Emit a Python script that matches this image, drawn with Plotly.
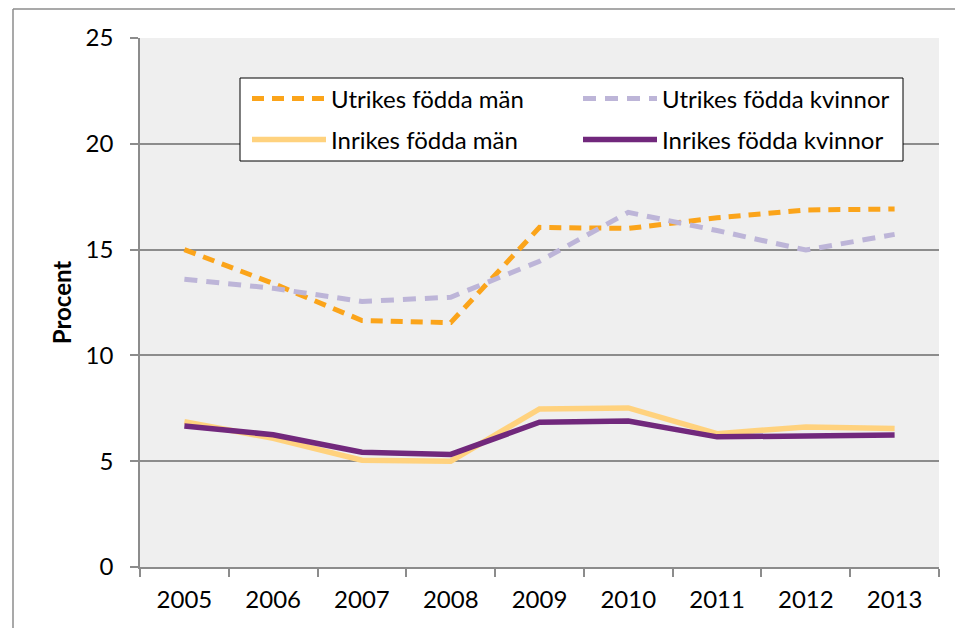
import plotly.graph_objects as go

years = ["2005", "2006", "2007", "2008", "2009", "2010", "2011", "2012", "2013"]
utrikes_man = [15.0, 13.4, 11.65, 11.55, 16.05, 16.0, 16.5, 16.87, 16.92]
utrikes_kvinnor = [13.6, 13.17, 12.55, 12.75, 14.45, 16.76, 15.9, 14.98, 15.72]
inrikes_man = [6.87, 6.08, 5.05, 5.0, 7.47, 7.52, 6.3, 6.62, 6.55]
inrikes_kvinnor = [6.66, 6.25, 5.42, 5.32, 6.84, 6.9, 6.15, 6.2, 6.24]
y_ticks = [0, 5, 10, 15, 20, 25]

FONT = "Lato"
GRID = "#8c8c8c"
OFF = 8  # browser body margin

fig = go.Figure()
series = [
    ("Utrikes födda män", utrikes_man, "#FBA41A", "12px,8px", 5, "legend"),
    ("Utrikes födda kvinnor", utrikes_kvinnor, "#BDB5D8", "13px,9px", 5, "legend2"),
    ("Inrikes födda män", inrikes_man, "#FFD27E", "solid", 5.5, "legend3"),
    ("Inrikes födda kvinnor", inrikes_kvinnor, "#71287C", "solid", 5.5, "legend4"),
]
for name, vals, col, dash, w, lg in series:
    fig.add_trace(go.Scatter(x=years, y=vals, name=name, mode="lines",
                             line=dict(color=col, width=w, dash=dash),
                             legend=lg, showlegend=True, hoverinfo="skip"))

L, T = 140, 38
R, B = 939, 567
pw = R - L
ph = B - T

def px(x):
    return (x - L) / pw

def py(y):
    return 1 - (y - T) / ph

leg_common = dict(bgcolor="rgba(0,0,0,0)", borderwidth=0, font=dict(family=FONT, size=24, color="#000"),
                  itemwidth=74, xanchor="left", yanchor="middle", itemclick=False, itemdoubleclick=False)
fig.update_layout(
    showlegend=True,
    legend=dict(x=px(247), y=py(99), **leg_common),
    legend2=dict(x=px(578), y=py(99), **leg_common),
    legend3=dict(x=px(247), y=py(140), **leg_common),
    legend4=dict(x=px(578), y=py(140), **leg_common),
)

shapes = [
    dict(type="rect", xref="paper", yref="paper", x0=px(240), x1=px(903), y0=py(161), y1=py(78),
         fillcolor="white", line=dict(color="#000", width=1), layer="above"),
    dict(type="line", xref="paper", yref="paper", x0=px(13), x1=px(13), y0=py(640), y1=py(9),
         line=dict(color="#8c8c8c", width=1.5)),
    dict(type="line", xref="paper", yref="paper", x0=px(13), x1=px(975), y0=py(9), y1=py(9),
         line=dict(color="#8c8c8c", width=1.5)),
]

fig.update_layout(
    width=963 - OFF, height=628 - OFF, autosize=False,
    margin=dict(l=L - OFF, r=963 - R, t=T - OFF, b=628 - B, pad=0),
    paper_bgcolor="white", plot_bgcolor="#efefef",
    font=dict(family=FONT, size=24, color="#000"),
    shapes=shapes,
    xaxis=dict(type="category", range=[-0.5, 8.5], showgrid=False, showline=True, linecolor=GRID,
               linewidth=1.5, ticks="outside", tickson="boundaries", ticklen=8, tickcolor=GRID,
               tickwidth=1.5, tickfont=dict(family=FONT, size=24, color="#000"),
               ticklabelstandoff=10, zeroline=False),
    yaxis=dict(range=[0, 25], tickvals=y_ticks, showgrid=True, gridcolor=GRID, gridwidth=1.5,
               showline=True, linecolor=GRID, linewidth=1.5, ticks="outside", ticklen=8,
               tickcolor=GRID, tickwidth=1.5, zeroline=False,
               tickfont=dict(family=FONT, size=24, color="#000"), ticklabelstandoff=12,
               title=dict(text="<b>Procent</b>", font=dict(family=FONT, size=24, color="#000"),
                          standoff=7)),
)

fig.write_html("out.html")
